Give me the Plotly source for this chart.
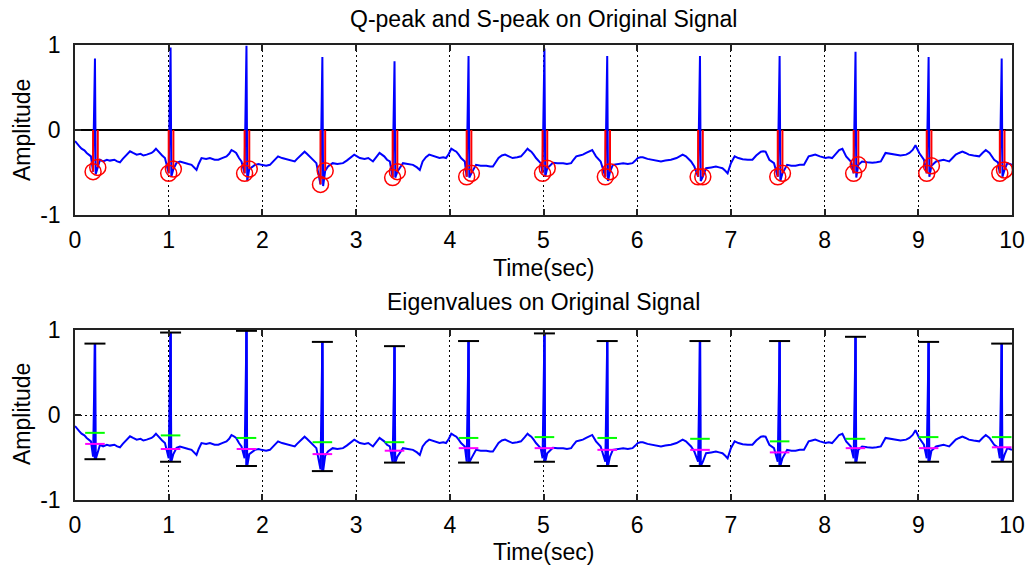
import plotly.graph_objects as go

# ---------------- data ----------------
# baseline (non-QRS part) of the ECG trace
base_t = [0.0, 0.02, 0.045, 0.07, 0.1, 0.125, 0.15, 0.17,
          0.267, 0.30, 0.34, 0.373, 0.42, 0.45, 0.48, 0.51, 0.533, 0.56, 0.587, 0.62, 0.658,
          0.70, 0.73, 0.765, 0.79, 0.817, 0.84, 0.864, 0.88, 0.906, 0.93, 0.96,
          1.084, 1.12, 1.17, 1.21, 1.244, 1.27, 1.297, 1.32, 1.35, 1.40, 1.44, 1.49, 1.53,
          1.57, 1.617, 1.645, 1.67, 1.695, 1.72, 1.75, 1.777,
          1.92, 1.96, 1.99, 2.04, 2.08, 2.12, 2.167, 2.21, 2.256, 2.30, 2.345, 2.37, 2.4,
          2.43, 2.45, 2.475, 2.5, 2.54, 2.576,
          2.70, 2.75, 2.80, 2.86, 2.90, 2.93, 2.955, 2.98, 3.01, 3.04, 3.09, 3.13, 3.18,
          3.215, 3.25, 3.275, 3.3, 3.33, 3.36,
          3.5, 3.55, 3.607, 3.65, 3.68, 3.71, 3.745, 3.78, 3.83, 3.89, 3.93, 3.96, 3.99,
          4.016, 4.045, 4.07, 4.095, 4.12, 4.16,
          4.28, 4.33, 4.39, 4.43, 4.46, 4.49, 4.52, 4.555, 4.59, 4.63, 4.67, 4.72, 4.76,
          4.80, 4.83, 4.85, 4.87, 4.895, 4.92, 4.97,
          5.1, 5.15, 5.21, 5.25, 5.295, 5.32, 5.35, 5.385, 5.42, 5.455, 5.49, 5.52, 5.56, 5.61,
          5.74, 5.80, 5.85, 5.90, 5.95, 5.98, 6.005, 6.035, 6.06, 6.11, 6.165, 6.21, 6.254,
          6.30, 6.36, 6.42, 6.485, 6.52, 6.575, 6.61,
          6.735, 6.79, 6.84, 6.875, 6.91, 6.94, 6.965, 7.0, 7.04, 7.08, 7.125, 7.18, 7.23,
          7.27, 7.32, 7.345, 7.37, 7.41, 7.46,
          7.6, 7.645, 7.69, 7.735, 7.78, 7.83, 7.865, 7.9, 7.95, 8.01, 8.045, 8.08, 8.12,
          8.155, 8.19, 8.23, 8.28,
          8.4, 8.455, 8.51, 8.555, 8.6, 8.65, 8.70, 8.76, 8.81, 8.87, 8.905, 8.94, 8.97,
          9.01, 9.06,
          9.19, 9.23, 9.27, 9.30, 9.33, 9.365, 9.4, 9.435, 9.47, 9.505, 9.54, 9.59, 9.65,
          9.685, 9.72, 9.76, 9.81, 9.85,
          9.95, 9.975, 10.0]
base_v = [-0.13, -0.16, -0.19, -0.22, -0.24, -0.27, -0.29, -0.31,
          -0.35, -0.37, -0.35, -0.36, -0.35, -0.37, -0.38, -0.34, -0.31, -0.28, -0.25, -0.27, -0.29,
          -0.28, -0.30, -0.29, -0.28, -0.27, -0.25, -0.22, -0.24, -0.275, -0.30, -0.33,
          -0.385, -0.37, -0.39, -0.40, -0.41, -0.44, -0.47, -0.40, -0.33, -0.34, -0.33, -0.35, -0.35,
          -0.33, -0.31, -0.28, -0.235, -0.25, -0.27, -0.33, -0.37,
          -0.41, -0.40, -0.41, -0.42, -0.41, -0.36, -0.31, -0.33, -0.345, -0.36, -0.37, -0.34, -0.31,
          -0.28, -0.255, -0.28, -0.31, -0.35, -0.39,
          -0.43, -0.39, -0.40, -0.39, -0.36, -0.33, -0.31, -0.29, -0.31, -0.33, -0.34, -0.33, -0.37,
          -0.32, -0.27, -0.29, -0.31, -0.35, -0.37,
          -0.39, -0.40, -0.41, -0.44, -0.47, -0.37, -0.32, -0.29, -0.31, -0.33, -0.32, -0.33, -0.28,
          -0.22, -0.24, -0.255, -0.29, -0.33, -0.37,
          -0.41, -0.42, -0.42, -0.43, -0.43, -0.38, -0.33, -0.30, -0.29, -0.31, -0.33, -0.32, -0.31,
          -0.26, -0.22, -0.24, -0.255, -0.29, -0.33, -0.39,
          -0.385, -0.39, -0.39, -0.40, -0.39, -0.35, -0.31, -0.30, -0.29, -0.27, -0.255, -0.235, -0.31, -0.37,
          -0.41, -0.40, -0.39, -0.40, -0.39, -0.36, -0.33, -0.32, -0.32, -0.34, -0.35, -0.36, -0.37,
          -0.36, -0.35, -0.33, -0.29, -0.31, -0.37, -0.43,
          -0.45, -0.44, -0.43, -0.44, -0.45, -0.48, -0.51, -0.39, -0.31, -0.33, -0.345, -0.35, -0.35,
          -0.30, -0.255, -0.25, -0.255, -0.35, -0.39,
          -0.41, -0.42, -0.42, -0.41, -0.41, -0.31, -0.30, -0.29, -0.31, -0.33, -0.32, -0.33, -0.28,
          -0.235, -0.22, -0.31, -0.37,
          -0.37, -0.38, -0.385, -0.38, -0.37, -0.27, -0.28, -0.29, -0.30, -0.29, -0.27, -0.235, -0.18,
          -0.27, -0.35,
          -0.37, -0.36, -0.35, -0.36, -0.37, -0.33, -0.29, -0.27, -0.255, -0.27, -0.29, -0.30, -0.31,
          -0.27, -0.235, -0.27, -0.35, -0.38,
          -0.39, -0.40, -0.41]

# R peaks
beat_t = [0.213, 1.02, 1.83, 2.64, 3.41, 4.20, 5.01, 5.68, 6.67, 7.52, 8.33, 9.11, 9.89]
r_peak = [0.84, 0.97, 0.99, 0.86, 0.81, 0.87, 0.96, 0.87, 0.87, 0.87, 0.92, 0.86, 0.84]
# Q peaks
q_t = [0.193, 1.00, 1.81, 2.62, 3.39, 4.18, 4.99, 5.66, 6.65, 7.50, 8.31, 9.09, 9.87]
q_val = [-0.49, -0.51, -0.51, -0.64, -0.56, -0.55, -0.51, -0.55, -0.55, -0.55, -0.51, -0.51, -0.51]
# S peaks
s_t = [0.243, 1.05, 1.86, 2.67, 3.44, 4.23, 5.04, 5.71, 6.70, 7.55, 8.36, 9.14, 9.92]
s_val = [-0.44, -0.46, -0.46, -0.48, -0.49, -0.51, -0.45, -0.49, -0.55, -0.51, -0.41, -0.42, -0.47]
# eigenvalue markers (bottom panel)
eig_low = [-0.52, -0.55, -0.60, -0.66, -0.56, -0.56, -0.55, -0.60, -0.60, -0.60, -0.56, -0.55, -0.55]
eig_green = [-0.21, -0.24, -0.27, -0.32, -0.32, -0.27, -0.26, -0.27, -0.28, -0.31, -0.28, -0.26, -0.26]
eig_magenta = [-0.34, -0.40, -0.40, -0.46, -0.42, -0.39, -0.39, -0.41, -0.41, -0.44, -0.39, -0.39, -0.38]

x_ticks = [0, 1, 2, 3, 4, 5, 6, 7, 8, 9, 10]
x_ticktext = ["0", "1", "2", "3", "4", "5", "6", "7", "8", "9", "10"]
y_ticks = [-1, 0, 1]
y_ticktext = ["-1", "0", "1"]

# ---------------- build the signal ----------------
pts = list(zip(base_t, base_v))
for i in range(len(beat_t)):
    pts.append((q_t[i], q_val[i]))
    pts.append((beat_t[i], r_peak[i]))
    pts.append((beat_t[i] + 0.008, eig_low[i]))
    pts.append((s_t[i], s_val[i]))
pts.sort(key=lambda p: p[0])
sig_t = [p[0] for p in pts]
sig_v = [p[1] for p in pts]

FONT = "Liberation Sans, Arial, sans-serif"
FS = 23

fig = go.Figure()

BLUE = "#0000ff"

# top panel
fig.add_trace(go.Scatter(x=sig_t, y=sig_v, mode="lines",
                         line=dict(color=BLUE, width=2), xaxis="x", yaxis="y",
                         showlegend=False, hoverinfo="skip"))
stem_x, stem_y = [], []
for t, v in list(zip(q_t, q_val)) + list(zip(s_t, s_val)):
    stem_x += [t, t, None]
    stem_y += [0, v, None]
fig.add_trace(go.Scatter(x=stem_x, y=stem_y, mode="lines",
                         line=dict(color="#ff0000", width=2), xaxis="x", yaxis="y",
                         showlegend=False, hoverinfo="skip"))
fig.add_trace(go.Scatter(x=q_t + s_t, y=q_val + s_val, mode="markers",
                         marker=dict(symbol="circle-open", size=16, color="#ff0000",
                                     line=dict(width=1.5, color="#ff0000")),
                         xaxis="x", yaxis="y", showlegend=False, hoverinfo="skip"))

# bottom panel
fig.add_trace(go.Scatter(x=sig_t, y=sig_v, mode="lines",
                         line=dict(color=BLUE, width=2), xaxis="x2", yaxis="y2",
                         showlegend=False, hoverinfo="skip"))
eb_x, eb_y = [], []
for t, lo, hi in zip(beat_t, eig_low, r_peak):
    eb_x += [t, t, None]
    eb_y += [lo, hi, None]
fig.add_trace(go.Scatter(x=eb_x, y=eb_y, mode="lines",
                         line=dict(color=BLUE, width=2.5), xaxis="x2", yaxis="y2",
                         showlegend=False, hoverinfo="skip"))
fig.add_trace(go.Scatter(x=beat_t + beat_t, y=r_peak + eig_low, mode="markers",
                         marker=dict(symbol="line-ew", size=15,
                                     line=dict(width=2, color="black")),
                         xaxis="x2", yaxis="y2", showlegend=False, hoverinfo="skip"))
fig.add_trace(go.Scatter(x=beat_t, y=eig_green, mode="markers",
                         marker=dict(symbol="line-ew", size=14,
                                     line=dict(width=2, color="#00ff00")),
                         xaxis="x2", yaxis="y2", showlegend=False, hoverinfo="skip"))
fig.add_trace(go.Scatter(x=beat_t, y=eig_magenta, mode="markers",
                         marker=dict(symbol="line-ew", size=14,
                                     line=dict(width=2, color="#ff00ff")),
                         xaxis="x2", yaxis="y2", showlegend=False, hoverinfo="skip"))

W, H = 1027, 569
x0, x1 = 75 / W, 1012 / W
top_dom = [1 - 215 / H, 1 - 45 / H]
bot_dom = [1 - 500 / H, 1 - 330 / H]

axis_common = dict(
    showline=True, linecolor="#222222", linewidth=1.5, mirror="allticks",
    ticks="inside", ticklen=6, tickwidth=1.5, tickcolor="#222222",
    showgrid=True, gridcolor="black", gridwidth=1, griddash="2px,3px",
    tickfont=dict(family=FONT, size=FS, color="black"), automargin=False,
)

fig.update_layout(
    width=W, height=H,
    margin=dict(l=0, r=0, t=0, b=0, autoexpand=False),
    paper_bgcolor="white", plot_bgcolor="white",
    xaxis=dict(domain=[x0, x1], anchor="y", range=[0, 10], tickvals=x_ticks,
               ticktext=x_ticktext, zeroline=False, ticklabelstandoff=4, **axis_common),
    yaxis=dict(domain=top_dom, anchor="x", range=[-1, 1], tickvals=y_ticks,
               ticktext=y_ticktext, zeroline=True, zerolinecolor="black",
               zerolinewidth=2, ticklabelstandoff=8, **axis_common),
    xaxis2=dict(domain=[x0, x1], anchor="y2", range=[0, 10], tickvals=x_ticks,
                ticktext=x_ticktext, zeroline=False, ticklabelstandoff=4, **axis_common),
    yaxis2=dict(domain=bot_dom, anchor="x2", range=[-1, 1], tickvals=y_ticks,
                ticktext=y_ticktext, zeroline=False, ticklabelstandoff=8, **axis_common),
    annotations=[
        dict(text="Q-peak and S-peak on Original Signal", x=(x0 + x1) / 2, y=1 - 19 / H,
             xref="paper", yref="paper", showarrow=False, xanchor="center", yanchor="middle",
             font=dict(family=FONT, size=FS, color="black")),
        dict(text="Eigenvalues on Original Signal", x=(x0 + x1) / 2, y=1 - 302 / H,
             xref="paper", yref="paper", showarrow=False, xanchor="center", yanchor="middle",
             font=dict(family=FONT, size=FS, color="black")),
        dict(text="Time(sec)", x=(x0 + x1) / 2, y=1 - 268 / H,
             xref="paper", yref="paper", showarrow=False, xanchor="center", yanchor="middle",
             font=dict(family=FONT, size=FS, color="black")),
        dict(text="Time(sec)", x=(x0 + x1) / 2, y=1 - 552 / H,
             xref="paper", yref="paper", showarrow=False, xanchor="center", yanchor="middle",
             font=dict(family=FONT, size=FS, color="black")),
        dict(text="Amplitude", x=22 / W, y=1 - 130 / H, textangle=-90,
             xref="paper", yref="paper", showarrow=False, xanchor="center", yanchor="middle",
             font=dict(family=FONT, size=FS, color="black")),
        dict(text="Amplitude", x=22 / W, y=1 - 414 / H, textangle=-90,
             xref="paper", yref="paper", showarrow=False, xanchor="center", yanchor="middle",
             font=dict(family=FONT, size=FS, color="black")),
    ],
)

fig.write_html("out.html")
